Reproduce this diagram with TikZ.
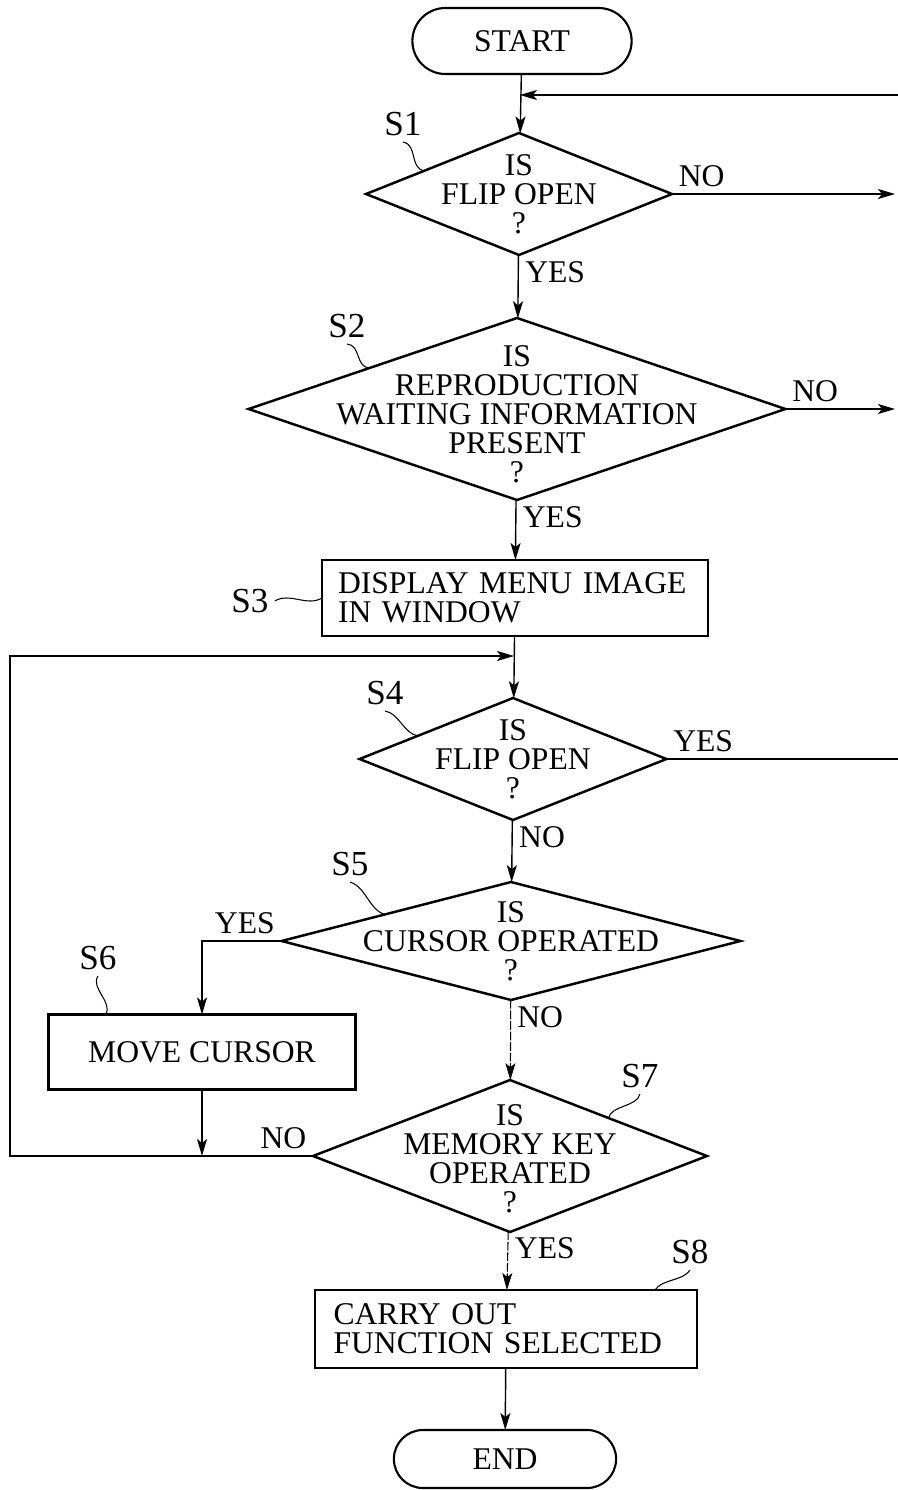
\documentclass[tikz,border=0pt]{standalone}
\usepackage{fontspec}
\setmainfont{Liberation Serif}
\usepackage{tikz}
\usetikzlibrary{arrows.meta,shapes.geometric,shapes.misc,calc}
\tikzset{>={Stealth[length=3.4mm,width=2mm,inset=0.8mm]}}
\tikzset{
	decision/.style={diamond, draw, line width=1.4pt, inner sep=0pt, outer sep=0pt},
	process/.style={rectangle, draw, line width=1.4pt, outer sep=0pt},
	terminal/.style={rounded rectangle, draw, line width=1.2pt, outer sep=0pt},
	flow/.style={line width=0.8pt},
	faint/.style={line width=0.6pt, dash pattern=on 5pt off 1pt},
	tilde/.style={line width=0.6pt},
	answer/.style={inner sep=3.5pt},
	stepno/.style={font=\stepfont}
}
\newcommand{\chartfont}{\fontsize{18}{16.5}\selectfont}
\newcommand{\stepfont}{\fontsize{20}{20}\selectfont}

\begin{document}
\begin{tikzpicture}[x=0.02cm, y=-0.02cm, font=\chartfont]
	\useasboundingbox (0,0) rectangle (897,1490);

	\node[terminal, minimum width=4.62cm, minimum height=1.32cm] (start) at (522,41) {START};
	\node[decision, minimum width=6.12cm, minimum height=2.44cm] (s1) at (519,194) {};
	\node[align=center] (s1t) at (s1) {IS\\FLIP OPEN\\?};
	\node[decision, minimum width=10.74cm, minimum height=3.64cm] (s2) at (517,409) {};
	\node[align=center] (s2t) at ($(s2)+(0,5)$) {IS\\REPRODUCTION\\WAITING INFORMATION\\PRESENT\\?};
	\node[process, minimum width=7.72cm, minimum height=1.52cm, text width=7.08cm, inner xsep=0.32cm, align=left] (s3) at (515,598) {DISPLAY MENU IMAGE\\IN WINDOW};
	\node[decision, minimum width=6.14cm, minimum height=2.44cm] (s4) at (513,759) {};
	\node[align=center] (s4t) at (s4) {IS\\FLIP OPEN\\?};
	\node[decision, minimum width=9.18cm, minimum height=2.36cm] (s5) at (511,941) {};
	\node[align=center] (s5t) at (s5) {IS\\CURSOR OPERATED\\?};
	\node[process, minimum width=6.14cm, minimum height=1.5cm] (s6) at (202,1052) {MOVE CURSOR};
	\node[decision, minimum width=7.88cm, minimum height=3.04cm] (s7) at (510,1156) {};
	\node[align=center] (s7t) at ($(s7)+(0,3)$) {IS\\MEMORY KEY\\OPERATED\\?};
	\node[process, minimum width=7.64cm, minimum height=1.56cm, text width=6.9cm, inner xsep=0.37cm, align=left] (s8) at (506,1329) {CARRY OUT\\FUNCTION SELECTED};
	\node[terminal, minimum width=4.68cm, minimum height=1.16cm] (stop) at (505,1459) {END};

	% step numbers
	\node[stepno] (l1) at (403,124) {S1};
	\node[stepno] (l2) at (347,326) {S2};
	\node[stepno] (l3) at (250,601) {S3};
	\node[stepno] (l4) at (385,693) {S4};
	\node[stepno] (l5) at (350,864) {S5};
	\node[stepno] (l6) at (98,958) {S6};
	\node[stepno] (l7) at (640,1076) {S7};
	\node[stepno] (l8) at (690,1252) {S8};

	\draw[tilde] (l1.south) .. controls +(15,3) and +(-15,-3) .. ($(s1.west)!0.38!(s1.north)$);
	\draw[tilde] (l2.south) .. controls +(14,1) and +(-14,-1) .. ($(s2.west)!0.45!(s2.north)$);
	\draw[tilde] (l3.east) .. controls +(15,-9) and +(-15,9) .. (s3.west);
	\draw[tilde] (l4.south) .. controls +(14,2) and +(-14,-2) .. ($(s4.west)!0.38!(s4.north)$);
	\draw[tilde] (l5.south) .. controls +(16,5) and +(-16,-5) .. ($(s5.west)!0.45!(s5.north)$);
	\draw[tilde] (l6.south) .. controls +(-8,12) and +(8,-12) .. ($(s6.north west)+(57,0)$);
	\draw[tilde] (l7.south) .. controls +(-3,13) and +(3,-13) .. ($(s7.north)!0.5!(s7.east)$);
	\draw[tilde] (l8.south) .. controls +(-7,11) and +(7,-11) .. ($(s8.north east)+(-42,0)$);

	\coordinate (rim) at (895,0);
	\coordinate (back) at (899,95);
	\coordinate (j1) at (520,95);
	\coordinate (j4) at (514,656);
	\coordinate (lft) at (10,656);

	\draw[flow,->] (start) -- (s1);
	\draw[flow,->] (s1.east) -- node[answer, pos=0, anchor=south west] (n1) {NO} (s1.east -| rim);
	\draw[flow,->] (s1) -- node[answer, pos=0, anchor=north west] (y1) {YES} (s2);
	\draw[flow,->] (s2.east) -- node[answer, pos=0, anchor=south west] (n2) {NO} (s2.east -| rim);
	\draw[flow,->] (s2) -- node[answer, pos=0, anchor=north west] (y2) {YES} (s3);
	\draw[flow,->] (s3) -- (s4);
	\draw[flow,->] (s4.east) -- node[answer, pos=0, anchor=south west] (y4) {YES} (s4.east -| back) -- (back) -- (j1);
	\draw[flow,->] (s4) -- node[answer, pos=0, anchor=north west] (n4) {NO} (s5);
	\draw[flow,->] (s5.west) -- node[answer, pos=0, anchor=south east] (y5) {YES} (s5.west -| s6) -- (s6);
	\draw[faint,->] (s5) -- node[answer, pos=0, anchor=north west] (n5) {NO} (s7);
	\draw[flow,->] (s6) -- (s6 |- s7.west);
	\draw[flow,->] (s7.west) -- node[answer, pos=0, anchor=south east] (n7) {NO} (s7.west -| lft) -- (lft) -- (j4);
	\draw[faint,->] (s7) -- node[answer, pos=0, anchor=north west] (y7) {YES} (s8);
	\draw[flow,->] (s8) -- (stop);
\end{tikzpicture}
\end{document}
